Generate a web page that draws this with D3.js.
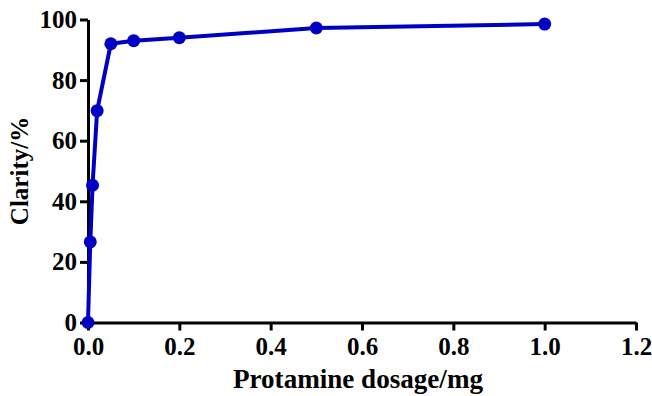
<!DOCTYPE html>
<html>
<head>
<meta charset="utf-8">
<script src="https://cdn.jsdelivr.net/npm/d3@7"></script>
<style>
  body { margin: 0; background: #fff; }
  svg { display: block; }
  text { font-family: "Liberation Serif", "Times New Roman", serif; font-weight: bold; }
</style>
</head>
<body>
<div id="chart"></div>
<script>
// Data
const dosage = [0, 0.005, 0.01, 0.02, 0.05, 0.1, 0.2, 0.5, 1.0];
const clarity = [0, 26.6, 45.3, 69.9, 92.0, 93.0, 94.0, 97.2, 98.5];
const xTicks = [0, 0.2, 0.4, 0.6, 0.8, 1.0, 1.2];
const yTicks = [0, 20, 40, 60, 80, 100];

const width = 652, height = 396;
const margins = { left: 88, right: 16, top: 19.5, bottom: 73.5 };

const svg = d3.select("#chart").append("svg")
    .attr("width", width)
    .attr("height", height);

const x = d3.scaleLinear().domain([0, 1.2]).range([margins.left, width - margins.right]);
const y = d3.scaleLinear().domain([0, 100]).range([height - margins.bottom, margins.top]);

// Axes
const xAxis = svg.append("g")
    .attr("transform", `translate(0,${y(0)})`)
    .call(d3.axisBottom(x).tickValues(xTicks).tickFormat(d3.format(".1f")).tickSize(8).tickSizeOuter(0).tickPadding(7));

const yAxis = svg.append("g")
    .attr("transform", `translate(${x(0)},0)`)
    .call(d3.axisLeft(y).tickValues(yTicks).tickSize(8).tickSizeOuter(0).tickPadding(3));

[xAxis, yAxis].forEach(g => {
    g.selectAll(".domain").attr("stroke", "#000").attr("stroke-width", 3);
    g.selectAll(".tick line").attr("stroke", "#000").attr("stroke-width", 3);
    g.selectAll(".tick text")
        .attr("fill", "#000")
        .style("font-size", "25px")
        .style("font-family", "'Liberation Serif', serif")
        .style("font-weight", "bold");
});

// Axis titles
svg.append("text")
    .attr("x", 358)
    .attr("y", 388)
    .attr("text-anchor", "middle")
    .attr("textLength", 250)
    .attr("lengthAdjust", "spacingAndGlyphs")
    .style("font-size", "28px")
    .text("Protamine dosage/mg");

svg.append("text")
    .attr("transform", `translate(28,${(y(0) + y(100)) / 2}) rotate(-90)`)
    .attr("text-anchor", "middle")
    .style("font-size", "25px")
    .text("Clarity/%");

// Line and markers
const points = dosage.map((d, i) => [d, clarity[i]]);
const blue = "#0000c4";

svg.append("path")
    .datum(points)
    .attr("fill", "none")
    .attr("stroke", blue)
    .attr("stroke-width", 4)
    .attr("stroke-linejoin", "round")
    .attr("d", d3.line().x(d => x(d[0])).y(d => y(d[1])));

svg.selectAll("circle.pt")
    .data(points)
    .join("circle")
    .attr("class", "pt")
    .attr("cx", d => x(d[0]))
    .attr("cy", d => y(d[1]))
    .attr("r", 6.5)
    .attr("fill", blue);
</script>
</body>
</html>
